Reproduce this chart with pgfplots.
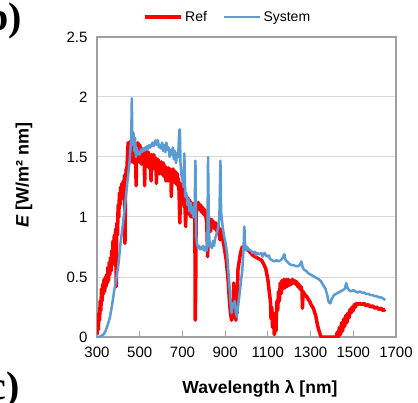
\documentclass[border=0pt]{standalone}
\usepackage{fontspec}
\setmainfont{Liberation Sans}
\newfontfamily\tnr{Liberation Serif}
\usepackage{pgfplots}
\pgfplotsset{compat=1.18}
\definecolor{refred}{HTML}{FF0000}
\definecolor{sysblue}{HTML}{5B9BD5}
\definecolor{framegray}{HTML}{A0A0A0}
\definecolor{gridgray}{HTML}{D9D9D9}
\begin{document}
\begin{tikzpicture}
\useasboundingbox (0,0) rectangle (418pt,402pt);
\clip (0,0) rectangle (418pt,402pt);
\begin{axis}[
 at={(97pt,65pt)}, anchor=south west,
 scale only axis, width=299pt, height=300pt,
 xmin=300, xmax=1700, ymin=0, ymax=2.5,
 xtick={300,500,...,1700}, ytick={0,0.5,...,2.5},
 xtick pos=lower, ytick pos=left,
 ytick style={draw=none},
 xtick style={draw=framegray, line width=1pt},
 major tick length=6pt,
 ymajorgrids, grid style={gridgray, line width=1pt},
 axis line style={framegray, line width=1.5pt},
 tick label style={font=\fontsize{15}{18}\selectfont, text=black},
 /pgf/number format/assume math mode=true,
 /pgf/number format/1000 sep={},
 yticklabel style={xshift=-6pt},
 xticklabel style={yshift=-6pt},
 xlabel={\textbf{Wavelength λ [nm]}},
 xlabel style={at={(axis description cs:0.545,-0.172)}, anchor=center, font=\fontsize{17.5}{20}\selectfont},
 ylabel={\textbf{\textit{E}} \textbf{[W/m² nm]}},
 ylabel style={at={(axis description cs:-0.244,0.54)}, anchor=center, font=\fontsize{18}{20}\selectfont},
 legend style={at={(axis description cs:0.438,1.067)}, anchor=center, draw=none, fill=none,
   font=\fontsize{14}{16}\selectfont, /tikz/every even column/.append style={column sep=14pt}},
 legend columns=2,
 legend image code/.code={\draw[#1] (0pt,0pt) -- (36pt,0pt);},
]
\addplot[refred, line width=3.5pt, line join=round] coordinates {
(300,0.02)(303,0.10)(306,0.06)(309,0.20)(312,0.14)(315,0.30)(318,0.22)(321,0.40)(324,0.30)(327,0.44)
(330,0.36)(333,0.48)(336,0.38)(339,0.50)(342,0.42)(345,0.52)(348,0.45)(351,0.58)(354,0.47)(357,0.62)
(360,0.52)(363,0.66)(366,0.55)(369,0.72)(372,0.60)(375,0.80)(378,0.66)(381,0.85)(384,0.72)(387,0.90)
(390,0.42)(393,0.95)(396,0.85)(399,1.10)(402,1.00)(405,1.20)(408,1.10)(411,1.25)(414,1.15)(417,1.28)
(420,1.18)(423,1.30)(426,1.22)(429,1.35)(431,0.78)(434,1.32)(437,1.40)(440,1.40)(443,1.52)(446,1.62)
(448,1.50)(451,1.60)(453,1.48)(456,1.63)(458,1.52)(461,1.60)(463,1.46)(466,1.62)(468,1.50)(471,1.58)
(473,1.45)(476,1.62)(478,1.50)(481,1.56)(483,1.26)(486,1.55)(488,1.48)(491,1.62)(493,1.50)(496,1.58)
(498,1.46)(501,1.60)(503,1.50)(506,1.56)(508,1.44)(511,1.57)(513,1.48)(516,1.55)(518,1.45)(521,1.56)
(523,1.26)(526,1.52)(528,1.45)(531,1.55)(533,1.46)(536,1.53)(538,1.42)(541,1.54)(543,1.46)(546,1.52)
(548,1.40)(551,1.50)(553,1.30)(556,1.52)(558,1.44)(561,1.50)(563,1.40)(566,1.52)(568,1.42)(571,1.48)
(573,1.40)(576,1.49)(578,1.28)(581,1.47)(583,1.40)(586,1.48)(588,1.38)(591,1.46)(593,1.36)(596,1.45)
(598,1.38)(601,1.46)(603,1.36)(606,1.44)(608,1.35)(611,1.45)(613,1.34)(616,1.43)(618,1.33)(621,1.42)
(623,1.30)(626,1.41)(628,1.33)(631,1.40)(633,1.30)(636,1.41)(638,1.32)(641,1.40)(643,1.30)(646,1.38)
(648,1.17)(651,1.38)(653,1.30)(656,1.40)(658,1.31)(661,1.37)(663,1.29)(666,1.38)(668,1.28)(671,1.35)
(673,1.27)(676,1.36)(678,1.26)(681,1.32)(684,1.22)(688,0.95)(691,1.28)(693,1.18)(695,1.25)(697,1.14)
(699,1.26)(701,1.12)(703,1.20)(705,1.10)(707,1.22)(709,1.08)(711,1.15)(715,0.92)(718,1.18)(720,1.06)
(722,1.14)(724,1.04)(726,1.16)(728,1.04)(730,1.12)(732,1.02)(734,1.14)(736,1.02)(738,1.10)(740,1.00)
(742,1.12)(744,1.02)(746,1.08)(748,1.00)(750,1.10)(753,1.02)(755,1.08)(758,1.12)(760,0.14)(762,0.40)
(765,1.12)(770,1.10)(775,1.12)(780,1.06)(785,1.10)(790,1.04)(795,1.08)(800,1.02)(805,1.06)(810,1.00)
(814,0.95)(818,0.67)(822,1.00)(827,0.95)(832,0.88)(837,0.98)(842,0.93)(847,0.96)(852,0.90)(857,0.95)
(862,0.88)(867,0.93)(872,0.86)(876,0.81)(880,0.90)(885,0.84)(890,0.80)(895,0.76)(900,0.70)(905,0.64)
(910,0.55)(915,0.45)(920,0.30)(925,0.20)(930,0.14)(933,0.30)(936,0.18)(940,0.45)(943,0.16)(947,0.42)
(950,0.14)(953,0.35)(956,0.20)(960,0.56)(965,0.62)(970,0.68)(975,0.72)(980,0.75)(985,0.74)(990,0.76)
(1000,0.74)(1010,0.72)(1020,0.70)(1030,0.68)(1040,0.67)(1050,0.66)(1060,0.65)(1070,0.64)(1080,0.61)(1090,0.57)
(1100,0.48)(1107,0.37)(1112,0.30)(1115,0.15)(1118,0.25)(1122,0.08)(1126,0.20)(1130,0.02)(1134,0.15)(1138,0.05)
(1142,0.30)(1146,0.22)(1150,0.38)(1154,0.30)(1158,0.45)(1162,0.36)(1166,0.47)(1170,0.40)(1175,0.48)(1180,0.41)
(1185,0.48)(1190,0.42)(1195,0.48)(1200,0.43)(1205,0.47)(1210,0.44)(1215,0.48)(1220,0.45)(1225,0.47)(1230,0.44)
(1235,0.46)(1240,0.42)(1245,0.44)(1250,0.40)(1255,0.42)(1260,0.38)(1262,0.24)(1265,0.38)(1270,0.36)(1275,0.35)
(1280,0.34)(1285,0.33)(1290,0.31)(1295,0.30)(1300,0.28)(1305,0.26)(1310,0.25)(1315,0.23)(1320,0.20)(1325,0.17)
(1330,0.12)(1335,0.08)(1340,0.05)(1345,0.02)(1350,0.00)(1420,0.00)(1425,0.04)(1430,0.00)(1435,0.08)(1440,0.02)
(1445,0.12)(1450,0.05)(1455,0.15)(1460,0.09)(1465,0.18)(1470,0.12)(1475,0.20)(1480,0.16)(1485,0.23)(1490,0.20)
(1495,0.25)(1500,0.22)(1505,0.27)(1510,0.25)(1515,0.28)(1520,0.27)(1530,0.28)(1540,0.27)(1550,0.28)(1560,0.26)
(1570,0.27)(1580,0.25)(1590,0.26)(1600,0.24)(1610,0.25)(1620,0.23)(1630,0.24)(1640,0.22)(1650,0.23)
};
\addlegendentry{Ref}
\addplot[sysblue, line width=2.5pt, line join=round] coordinates {
(300,0.00)(310,0.00)(320,0.01)(330,0.02)(340,0.05)(350,0.10)(360,0.16)(370,0.26)(380,0.38)(390,0.48)
(400,0.60)(410,0.78)(420,0.92)(430,1.08)(440,1.25)(450,1.42)(455,1.52)(458,1.60)(461,1.75)(463,1.99)
(465,1.72)(468,1.60)(471,1.70)(474,1.55)(478,1.66)(482,1.50)(486,1.58)(490,1.52)(495,1.54)(500,1.52)
(505,1.56)(510,1.54)(515,1.57)(520,1.55)(525,1.58)(530,1.56)(535,1.59)(540,1.57)(545,1.60)(550,1.58)
(555,1.60)(560,1.62)(565,1.59)(570,1.62)(575,1.64)(580,1.60)(585,1.64)(590,1.58)(595,1.60)(600,1.57)
(605,1.62)(610,1.55)(615,1.60)(620,1.54)(625,1.62)(630,1.56)(635,1.58)(640,1.50)(645,1.56)(650,1.52)
(655,1.58)(660,1.48)(665,1.55)(670,1.45)(675,1.53)(680,1.50)(685,1.72)(688,1.73)(691,1.45)(695,1.35)
(700,1.31)(705,1.25)(709,1.53)(713,1.17)(718,1.20)(723,1.10)(728,1.15)(733,1.05)(738,1.12)(743,1.03)
(748,1.08)(752,1.00)(757,1.05)(761,1.47)(764,0.86)(768,0.78)(773,0.74)(778,0.76)(783,0.73)(788,0.75)
(793,0.73)(798,0.76)(803,0.72)(808,0.75)(813,0.72)(817,0.80)(820,1.50)(824,0.90)(828,0.75)(833,0.78)
(838,0.74)(843,0.80)(848,0.76)(853,0.82)(858,0.85)(863,0.88)(868,0.92)(873,1.00)(878,1.47)(881,1.05)
(885,0.97)(890,0.90)(895,0.84)(900,0.80)(905,0.75)(910,0.68)(915,0.55)(920,0.42)(925,0.30)(930,0.20)
(935,0.28)(940,0.25)(945,0.30)(950,0.20)(955,0.17)(960,0.25)(965,0.32)(970,0.40)(975,0.48)(980,0.55)
(985,0.70)(990,0.92)(994,0.75)(998,0.72)(1003,0.75)(1010,0.73)(1020,0.72)(1030,0.70)(1040,0.71)(1045,0.68)
(1050,0.70)(1060,0.69)(1070,0.70)(1075,0.67)(1085,0.70)(1095,0.67)(1105,0.68)(1110,0.65)(1120,0.64)(1130,0.63)
(1140,0.64)(1150,0.63)(1160,0.64)(1170,0.66)(1177,0.69)(1183,0.64)(1190,0.63)(1200,0.61)(1210,0.60)(1220,0.60)
(1230,0.59)(1240,0.59)(1250,0.60)(1257,0.63)(1263,0.58)(1270,0.56)(1280,0.55)(1290,0.53)(1300,0.52)(1310,0.51)
(1320,0.50)(1330,0.49)(1340,0.48)(1350,0.46)(1360,0.43)(1370,0.40)(1378,0.35)(1385,0.29)(1392,0.28)(1400,0.32)
(1410,0.35)(1420,0.36)(1430,0.37)(1440,0.38)(1450,0.39)(1460,0.40)(1467,0.45)(1473,0.41)(1480,0.39)(1490,0.38)
(1500,0.39)(1510,0.38)(1520,0.37)(1530,0.38)(1540,0.37)(1550,0.37)(1560,0.36)(1570,0.36)(1580,0.35)(1590,0.35)
(1600,0.34)(1610,0.34)(1620,0.33)(1630,0.33)(1640,0.32)(1650,0.31)
};
\addlegendentry{System}
\end{axis}
\node[anchor=base east, inner sep=0pt, font=\tnr\bfseries\fontsize{40}{40}\selectfont] at (22pt,371pt) {b)};
\node[anchor=base east, inner sep=0pt, font=\tnr\bfseries\fontsize{40}{40}\selectfont] at (20pt,2pt) {c)};
\end{tikzpicture}
\end{document}
